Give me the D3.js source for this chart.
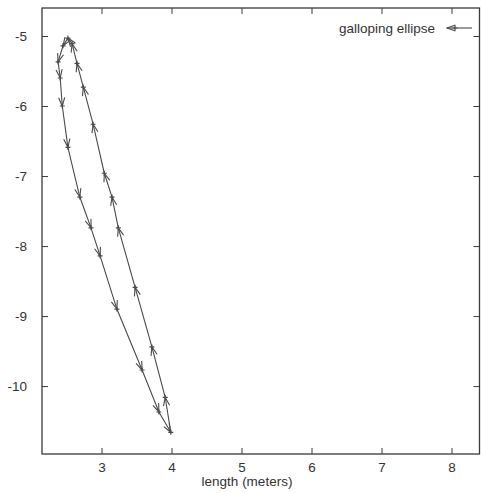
<!DOCTYPE html>
<html>
<head>
<meta charset="utf-8">
<script src="https://cdn.jsdelivr.net/npm/d3@7/dist/d3.min.js"></script>
<style>
  body { margin: 0; background: #fff; }
  text { font-family: "Liberation Sans", Arial, Helvetica, sans-serif; fill: #333; }
</style>
</head>
<body>
<svg id="chart" width="481" height="493"></svg>
<script>
// Series: path of the galloping ellipse, in metres
const seriesName = "galloping ellipse";
const xLabel = "length (meters)";
const xTicks = [3, 4, 5, 6, 7, 8];
const yTicks = [-5, -6, -7, -8, -9, -10];
const xDomain = [2.15, 8.4];
const yDomain = [-10.97, -4.6];

const lengthM = [2.52, 2.45, 2.38, 2.41, 2.44, 2.52, 2.69, 2.85, 2.98, 3.22, 3.58, 3.82, 3.99,
                 3.91, 3.72, 3.48, 3.24, 3.15, 3.04, 2.88, 2.74, 2.65, 2.58, 2.52];
const heightM = [-5.03, -5.14, -5.37, -5.60, -6.00, -6.59, -7.30, -7.74, -8.14, -8.90, -9.77, -10.37, -10.66,
                 -10.16, -9.44, -8.59, -7.74, -7.30, -6.96, -6.26, -5.73, -5.39, -5.11, -5.03];

const svg = d3.select("#chart");
const plotL = 42, plotR = 479.5, plotT = 8, plotB = 454;

const x = d3.scaleLinear().domain(xDomain).range([plotL, plotR]);
const y = d3.scaleLinear().domain(yDomain).range([plotB, plotT]);

const ink = "#3a3a3a";
const tickLen = 6;
const fontSize = 13.5;
const plain = d => String(d);   // hyphen-minus, as in the axis labels

// axes with inward ticks, mirrored on the opposite sides
const gB = svg.append("g").attr("transform", `translate(0,${plotB})`)
  .call(d3.axisBottom(x).tickValues(xTicks).tickSizeInner(-tickLen).tickSizeOuter(0).tickPadding(8).tickFormat(plain));
const gT = svg.append("g").attr("transform", `translate(0,${plotT})`)
  .call(d3.axisTop(x).tickValues(xTicks).tickSizeInner(-tickLen).tickSizeOuter(0).tickFormat(""));
const gL = svg.append("g").attr("transform", `translate(${plotL},0)`)
  .call(d3.axisLeft(y).tickValues(yTicks).tickSizeInner(-tickLen).tickSizeOuter(0).tickPadding(15).tickFormat(plain));
const gR = svg.append("g").attr("transform", `translate(${plotR},0)`)
  .call(d3.axisRight(y).tickValues(yTicks).tickSizeInner(-tickLen).tickSizeOuter(0).tickFormat(""));

[gB, gT, gL, gR].forEach(g => {
  g.select(".domain").remove();
  g.selectAll(".tick line").attr("stroke", ink).attr("stroke-width", 1);
  g.selectAll(".tick text").attr("font-size", fontSize).attr("fill", "#333")
    .style("font-family", '"Liberation Sans", Arial, sans-serif');
});

// frame
svg.append("rect")
  .attr("x", plotL).attr("y", plotT)
  .attr("width", plotR - plotL).attr("height", plotB - plotT)
  .attr("fill", "none").attr("stroke", ink).attr("stroke-width", 1.3);

// x axis title
svg.append("text")
  .attr("x", 247).attr("y", 486)
  .attr("text-anchor", "middle").attr("font-size", fontSize)
  .text(xLabel);

// path segments with arrowheads
const pts = lengthM.map((v, i) => [x(v), y(heightM[i])]);
const lineCol = "#4a4a4a";
const headLen = 9, headAng = 20 * Math.PI / 180;

function arrowHead(g, from, to) {
  const a = Math.atan2(to[1] - from[1], to[0] - from[0]);
  const p1 = [to[0] - headLen * Math.cos(a - headAng), to[1] - headLen * Math.sin(a - headAng)];
  const p2 = [to[0] - headLen * Math.cos(a + headAng), to[1] - headLen * Math.sin(a + headAng)];
  g.append("path")
    .attr("d", `M${p1[0]},${p1[1]}L${to[0]},${to[1]}L${p2[0]},${p2[1]}`)
    .attr("fill", "none").attr("stroke", lineCol).attr("stroke-width", 1.1);
}

const gPath = svg.append("g");
gPath.append("path")
  .attr("d", d3.line()(pts))
  .attr("fill", "none").attr("stroke", lineCol).attr("stroke-width", 1.1);

for (let i = 1; i < pts.length; i++) arrowHead(gPath, pts[i - 1], pts[i]);

// point markers
gPath.selectAll("path.pt").data(pts.slice(0, -1)).join("path")
  .attr("class", "pt")
  .attr("d", d => `M${d[0] - 2.5},${d[1]}h5M${d[0]},${d[1] - 2.5}v5`)
  .attr("stroke", lineCol).attr("stroke-width", 1.2);

// legend
const ly = 28;
svg.append("text")
  .attr("x", 435).attr("y", ly + 5)
  .attr("text-anchor", "end").attr("font-size", fontSize)
  .text(seriesName);
const lg = svg.append("g");
lg.append("line").attr("x1", 447).attr("x2", 472).attr("y1", ly).attr("y2", ly)
  .attr("stroke", lineCol).attr("stroke-width", 1.1);
arrowHead(lg, [472, ly], [447, ly]);
lg.append("path").attr("d", `M452.5,${ly}h5M455,${ly - 2.5}v5`)
  .attr("stroke", lineCol).attr("stroke-width", 1.2);
</script>
</body>
</html>
